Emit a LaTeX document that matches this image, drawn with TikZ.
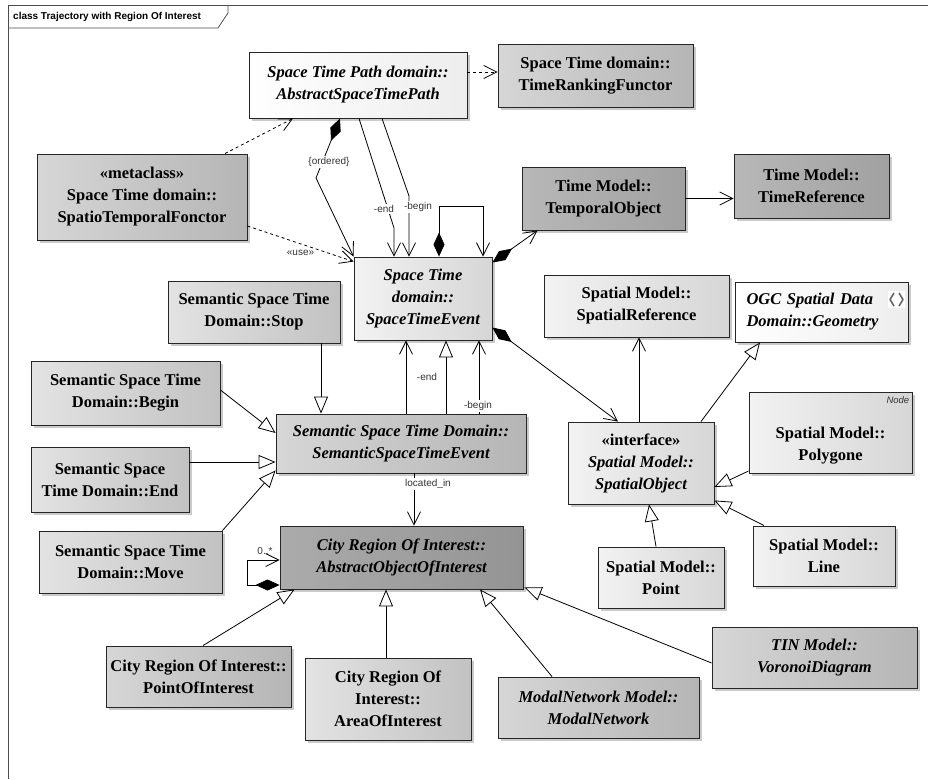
\documentclass[tikz,border=0pt]{standalone}
\usepackage{fontspec}
\setmainfont{Liberation Serif}
\setsansfont{Liberation Sans}
\usetikzlibrary{arrows.meta,shadows}

\begin{document}
\begin{tikzpicture}[x=1pt,y=-1pt,
  box/.style={draw=black!85, line width=0.9pt, inner sep=2pt, align=center,
    font=\fontsize{16.5}{22}\selectfont\bfseries,
    drop shadow={shadow xshift=3pt, shadow yshift=-3pt, fill=black!35, opacity=0.6}},
  absc/.style={font=\fontsize{16.5}{22}\selectfont\bfseries\itshape},
  fillW/.style={left color=white, right color=black!7},
  fillL/.style={left color=black!5, right color=black!16},
  fillS/.style={left color=black!11, right color=black!24},
  fillM/.style={left color=black!16, right color=black!29},
  fillD/.style={left color=black!28, right color=black!37},
  fillX/.style={left color=black!33, right color=black!42},
  lbl/.style={font=\sffamily\fontsize{10}{12}\selectfont, text=black!80, inner sep=1pt},
  con/.style={line width=0.8pt, black},
  assoc/.style={con, -{Straight Barb[length=13pt,width=13pt]}},
  dep/.style={con, dashed, -{Straight Barb[length=13pt,width=13pt]}},
  gen/.style={con, -{Triangle[length=17pt,width=14pt,fill=white]}},
  comp/.style={con, {Diamond[length=24pt,width=11pt]}-{Straight Barb[length=13pt,width=13pt]}}
]
\useasboundingbox (0,0) rectangle (928,779);

% frame
\draw[black!70, line width=0.8pt] (928,5) -- (8,5) -- (8,779);
\draw[black!70, line width=0.8pt] (8,28) -- (218,28) -- (228,13) -- (228,5);
\node[anchor=west, font=\sffamily\bfseries\fontsize{10}{12}\selectfont, inner sep=0pt] (title) at (13,17) {class Trajectory with Region Of Interest};

% classes
\node[box,fillW,absc,minimum width=218pt,minimum height=66pt] (aspt) at (358,85) {Space Time Path domain::\\AbstractSpaceTimePath};
\node[box,fillM,minimum width=195pt,minimum height=63pt] (trf) at (595.5,75.5) {Space Time domain::\\TimeRankingFunctor};
\node[box,fillM,minimum width=210pt,minimum height=86pt] (stf) at (142,197) {«metaclass»\\Space Time domain::\\SpatioTemporalFonctor};
\node[box,fillL,absc,minimum width=138pt,minimum height=83pt] (ste) at (423,298.5) {Space Time\\domain::\\SpaceTimeEvent};
\node[box,fillD,minimum width=163pt,minimum height=63pt] (tobj) at (603.5,198.5) {Time Model::\\TemporalObject};
\node[box,fillD,minimum width=155pt,minimum height=64pt] (tref) at (811.5,186) {Time Model::\\TimeReference};
\node[box,fillL,minimum width=185pt,minimum height=62pt] (sref) at (636.5,306) {Spatial Model::\\SpatialReference};
\node[box,fillW,absc,minimum width=173pt,minimum height=60pt,text width=150pt,align=left] (geom) at (821.5,312) {OGC Spatial Data\\Domain::Geometry};
\node[box,fillL,absc,minimum width=146pt,minimum height=82pt] (sobj) at (641,463) {{\upshape «interface»}\\Spatial Model::\\SpatialObject};
\node[box,fillL,minimum width=163pt,minimum height=81pt] (poly) at (830.5,432.5) {};
\node[font=\fontsize{16.5}{22}\selectfont\bfseries, align=center, inner sep=0pt] (polytxt) at ([yshift=-13pt]poly.center) {Spatial Model::\\Polygone};
\node[anchor=north east, font=\sffamily\itshape\fontsize{9.5}{11}\selectfont, inner sep=0pt, text=black!80] (polystereo) at ([xshift=-3pt,yshift=-5pt]poly.north east) {Node};
\node[box,fillL,minimum width=126pt,minimum height=61pt] (point) at (661,577.5) {Spatial Model::\\Point};
\node[box,fillL,minimum width=142pt,minimum height=60pt] (line) at (824,556) {Spatial Model::\\Line};
\node[box,fillM,absc,minimum width=205pt,minimum height=61pt] (vor) at (814.5,657.5) {TIN Model::\\VoronoiDiagram};
\node[box,fillM,absc,minimum width=201pt,minimum height=61pt] (modal) at (598.5,707.5) {ModalNetwork Model::\\ModalNetwork};
\node[box,fillS,minimum width=166pt,minimum height=82pt] (area) at (388,699) {City Region Of\\Interest::\\AreaOfInterest};
\node[box,fillM,minimum width=185pt,minimum height=61pt] (poi) at (198.5,676.5) {City Region Of Interest::\\PointOfInterest};
\node[box,fillX,absc,minimum width=243pt,minimum height=63pt] (aoi) at (401.5,557.5) {City Region Of Interest::\\AbstractObjectOfInterest};
\node[box,fillS,minimum width=183pt,minimum height=62pt] (move) at (130.5,562) {Semantic Space Time\\Domain::Move};
\node[box,fillS,minimum width=158pt,minimum height=65pt] (endn) at (110,479.5) {Semantic Space\\Time Domain::End};
\node[box,fillS,minimum width=189pt,minimum height=64pt] (begin) at (125.5,393) {Semantic Space Time\\Domain::Begin};
\node[box,fillS,minimum width=172pt,minimum height=62pt] (stop) at (254,312) {Semantic Space Time\\Domain::Stop};
\node[box,fillM,absc,minimum width=250pt,minimum height=59pt] (sste) at (401,443.5) {Semantic Space Time Domain::\\SemanticSpaceTimeEvent};

% geometry icon
\fill[white] (888,291) rectangle (905,308);
\draw[black!60, line width=1.6pt, line join=round] (894,293) -- (890,299.5) -- (894,306);
\draw[black!60, line width=1.6pt, line join=round] (899,293) -- (903,299.5) -- (899,306);

% connectors
\draw[dep] ([xshift=83pt]stf.north) -- ([xshift=-65pt]aspt.south);
\draw[dep] ([yshift=-29pt]stf.east) -- node[lbl,pos=0.5,below,yshift=-5pt]{«use»} ([yshift=-5pt]ste.north west);
\draw[dep] ([yshift=13pt]aspt.east) coordinate (d1) -- (d1 -| trf.west);

\coordinate (ob) at (316,178);
\draw[comp] ([xshift=-18pt]aspt.south) -- (ob) -- (ste.north west);
\node[lbl,fill=white] (ordl) at (329,162) {\{ordered\}};

\coordinate (eb) at (394,228);
\draw[assoc] ([xshift=1pt]aspt.south) -- (eb) -- (eb |- ste.north);
\node[lbl,fill=white] (endl) at (384,209) {-end};
\coordinate (bb) at (409,196);
\draw[assoc] ([xshift=24pt]aspt.south) -- (bb) -- (bb |- ste.north);
\node[lbl,fill=white] (begl) at (418,207) {-begin};

\draw[comp] ([xshift=16pt]ste.north) -- ++(0,-50) -| ([xshift=60pt]ste.north);
\draw[comp] ([yshift=-6pt]ste.north east) -- ([xshift=16pt]tobj.south west);
\draw[assoc] (tobj.east) -- (tobj.east -| tref.west);
\draw[comp] ([yshift=-71pt]ste.north east) -- ([xshift=-23pt]sobj.north);
\draw[assoc] ([xshift=-2pt]sobj.north) coordinate (s1) -- (s1 |- sref.south);
\draw[gen] ([xshift=60pt]sobj.north) -- ([xshift=-61.5pt]geom.south);
\draw[gen] ([yshift=-38.5pt]poly.west) -- ([yshift=-24pt]sobj.east);
\draw[gen] ([xshift=-60pt]line.north) -- ([yshift=4pt]sobj.south east);
\draw[gen] ([xshift=-5pt]point.north) -- ([xshift=8pt]sobj.south);

\draw[gen] ([xshift=67pt]stop.south) coordinate (g1) -- (g1 |- sste.north);
\draw[gen] ([yshift=3pt]begin.east) -- ([yshift=10.5pt]sste.west);
\draw[gen] ([yshift=17.5pt]endn.east) coordinate (g2) -- (g2 -| sste.west);
\draw[gen] (move.north east) -- ([yshift=3pt]sste.south west);

\draw[assoc] ([xshift=5pt]sste.north) coordinate (a1) -- (a1 |- ste.south);
\node[lbl] (endl2) at (427,377) {-end};
\draw[gen] ([xshift=45pt]sste.north) coordinate (a2) -- (a2 |- ste.south);
\draw[assoc] ([xshift=78pt]sste.north) coordinate (a3) -- (a3 |- ste.south);
\node[lbl,fill=white] (begl2) at (478,406) {-begin};

\draw[assoc] ([xshift=13pt]sste.south) coordinate (a4) -- (a4 |- aoi.north);
\node[lbl,fill=white] (locl) at (428,484) {located\_in};

\draw[comp] ([yshift=-27.5pt]aoi.west) -- ++(-32,0) |- ([yshift=-2.5pt]aoi.west);
\node[lbl] (mult) at (265,551) {0..*};

\draw[gen] ([xshift=4.5pt]poi.north) -- ([xshift=15pt]aoi.south west);
\draw[gen] ([xshift=-2pt]area.north) coordinate (a5) -- (a5 |- aoi.south);
\draw[gen] ([xshift=-46.5pt]modal.north) -- ([xshift=78.5pt]aoi.south);
\draw[gen] ([yshift=-5.5pt]vor.west) -- ([xshift=1pt,yshift=2pt]aoi.south east);
\end{tikzpicture}
\end{document}
